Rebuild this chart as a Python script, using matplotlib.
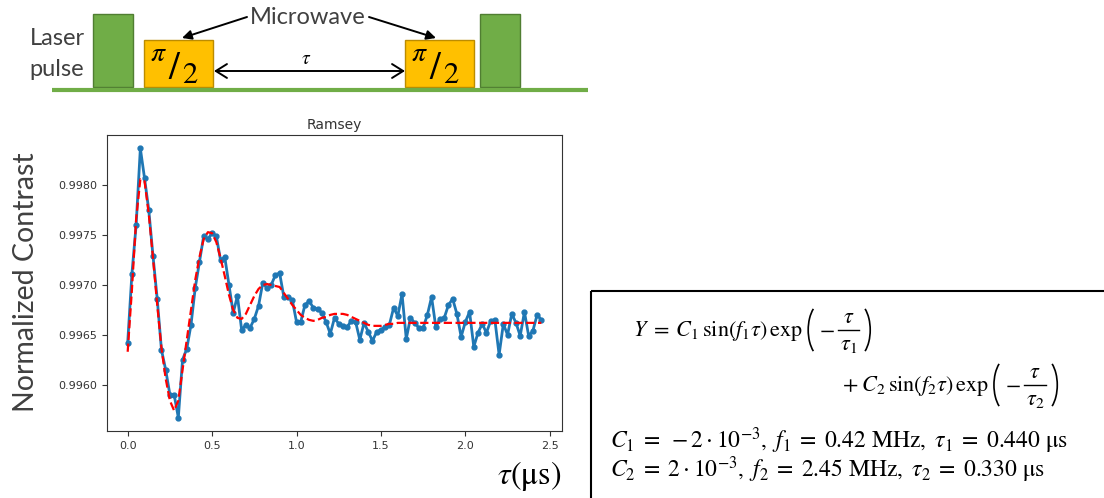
import numpy as np
import matplotlib
matplotlib.use('Agg')
import matplotlib.pyplot as plt
from matplotlib.patches import Rectangle, Arc

plt.rcParams['mathtext.fontset'] = 'stix'

# Ramsey data (tau in us)
tau = np.linspace(0, 2.45, 99)
contrast = [
    0.99642, 0.99711, 0.99760, 0.99837, 0.99807, 0.99775, 0.99729, 0.99686, 0.99635, 0.99615,
    0.99590, 0.99590, 0.99567, 0.99625, 0.99636, 0.99660, 0.99697, 0.99723, 0.99749, 0.99746,
    0.99752, 0.99749, 0.99725, 0.99728, 0.99700, 0.99672, 0.99689, 0.99655, 0.99660, 0.99657,
    0.99666, 0.99679, 0.99702, 0.99697, 0.99700, 0.99710, 0.99712, 0.99688, 0.99688, 0.99685,
    0.99663, 0.99663, 0.99680, 0.99684, 0.99677, 0.99676, 0.99672, 0.99663, 0.99651, 0.99667,
    0.99661, 0.99659, 0.99658, 0.99664, 0.99663, 0.99645, 0.99662, 0.99653, 0.99644, 0.99653,
    0.99655, 0.99658, 0.99660, 0.99677, 0.99669, 0.99691, 0.99646, 0.99667, 0.99662, 0.99657,
    0.99657, 0.99670, 0.99688, 0.99658, 0.99666, 0.99667, 0.99680, 0.99686, 0.99671, 0.99648,
    0.99663, 0.99673, 0.99638, 0.99652, 0.99661, 0.99652, 0.99664, 0.99665, 0.99630, 0.99661,
    0.99650, 0.99671, 0.99662, 0.99649, 0.99673, 0.99649, 0.99654, 0.99670, 0.99665,
]
fit = [
    0.99633, 0.99695, 0.99766, 0.99806, 0.99804, 0.99771, 0.99727, 0.99680, 0.99637, 0.99606,
    0.99584, 0.99574, 0.99584, 0.99615, 0.99645, 0.99675, 0.99705, 0.99728, 0.99746, 0.99753,
    0.99752, 0.99743, 0.99727, 0.99709, 0.99690, 0.99675, 0.99667, 0.99666, 0.99671, 0.99680,
    0.99689, 0.99696, 0.99700, 0.99701, 0.99700, 0.99699, 0.99698, 0.99692, 0.99686, 0.99680,
    0.99675, 0.99670, 0.99667, 0.99665, 0.99664, 0.99665, 0.99667, 0.99668, 0.99670, 0.99671,
    0.99671, 0.99671, 0.99670, 0.99668, 0.99666, 0.99664, 0.99662, 0.99660, 0.99659, 0.99659,
    0.99659, 0.99660, 0.99661, 0.99661, 0.99662, 0.99662, 0.99662, 0.99662, 0.99662, 0.99662,
    0.99662, 0.99662, 0.99662, 0.99662, 0.99662, 0.99662, 0.99662, 0.99662, 0.99662, 0.99662,
    0.99662, 0.99662, 0.99662, 0.99662, 0.99662, 0.99662, 0.99662, 0.99662, 0.99662, 0.99662,
    0.99662, 0.99662, 0.99662, 0.99662, 0.99662, 0.99662, 0.99662, 0.99662, 0.99662,
]
yticks = [0.9960, 0.9965, 0.9970, 0.9975, 0.9980]

fig = plt.figure(figsize=(11.04, 4.98), dpi=100)
renderer = fig.canvas.get_renderer()

# --- Ramsey plot ---
ax = fig.add_axes([107 / 1104, 67 / 498, 455 / 1104, 296 / 498])
ax.plot(tau, contrast, '-o', color='#1f77b4', lw=2, ms=3.5)
ax.plot(tau, fit, '--', color='red', lw=1.6)
ax.set_title('Ramsey', fontsize=10, color='#333333', pad=4)
ax.set_yticks(yticks)
ax.set_xticks([0.0, 0.5, 1.0, 1.5, 2.0, 2.5])
ax.tick_params(labelsize=8, colors='#333333')
for s in ax.spines.values():
    s.set_color('#333333')

# --- overlay in pixel coords for the diagram, labels and equation box ---
ov = fig.add_axes([0, 0, 1, 1], zorder=-1)
ov.set_xlim(0, 1104)
ov.set_ylim(498, 0)
ov.axis('off')

txt = '#404040'
ov.text(26, 282, 'Normalized Contrast', rotation=90, ha='center', va='center',
        fontsize=20.5, family='Lato', color=txt)
ov.text(561, 476, r'$\tau$(μs)', ha='right', va='center', fontsize=23,
        family='STIXGeneral', color='black')

# pulse sequence
green, green_edge = '#70AD47', '#507E32'
orange, orange_edge = '#FFC000', '#BC8C00'
ov.plot([52, 588], [90, 90], color=green, lw=3, solid_capstyle='butt')
for x0 in (93, 480):
    ov.add_patch(Rectangle((x0, 14), 40, 73, facecolor=green, edgecolor=green_edge, lw=1))
for x0 in (144, 405):
    ov.add_patch(Rectangle((x0, 40), 69, 47, facecolor=orange, edgecolor=orange_edge, lw=1))
    ov.text(x0 + 14, 53, r'$\pi$', fontsize=20, ha='center', va='center')
    ov.text(x0 + 30, 70, '/', fontsize=28, family='STIXGeneral', ha='center', va='center')
    ov.text(x0 + 46, 76, '2', fontsize=22, family='STIXGeneral', ha='center', va='center')

ov.text(57, 38, 'Laser', fontsize=17, family='Lato', color=txt, ha='center', va='center')
ov.text(57, 69, 'pulse', fontsize=17, family='Lato', color=txt, ha='center', va='center')
ov.text(308, 17, 'Microwave', fontsize=17, family='Lato', color=txt, ha='center', va='center')
arrow = dict(arrowstyle='-|>', color='black', lw=1.4, mutation_scale=14, shrinkA=0, shrinkB=0)
ov.annotate('', xy=(182, 38), xytext=(247, 17), arrowprops=arrow)
ov.annotate('', xy=(436, 38), xytext=(369, 17), arrowprops=arrow)
ov.annotate('', xy=(405, 71), xytext=(214, 71),
            arrowprops=dict(arrowstyle='<->,head_length=0.8,head_width=0.5', color='black',
                            lw=1.4, shrinkA=0, shrinkB=0))
ov.text(306, 58, r'$\tau$', fontsize=14, ha='center', va='center')

# equation box
ov.add_patch(Rectangle((591, 291), 530, 230, fill=False, edgecolor='black', lw=1.5))
F = 16


def width(t):
    return t.get_window_extent(renderer).width


def paren(x, ym, left):
    # thin tall bracket drawn as an arc; returns its width in pixels
    if left:
        ov.add_patch(Arc((x + 15, ym), 30, 56, theta1=115, theta2=245, lw=1.2, color='black'))
    else:
        ov.add_patch(Arc((x - 6, ym), 30, 56, theta1=-65, theta2=65, lw=1.2, color='black'))
    return 9


def exp_term(x, yb, lead, sub):
    # lead text, then exp( -tau/tau_sub ) with a full-size fraction and tall brackets
    ym = yb - 6
    t = ov.text(x, yb, lead, fontsize=F, va='baseline')
    x += width(t) + 5
    x += paren(x, ym, True) + 2
    t = ov.text(x, yb, r'$-$', fontsize=F, va='baseline')
    x += width(t) + 3
    num = ov.text(0, yb - 13, r'$\tau$', fontsize=F, ha='center', va='baseline')
    den = ov.text(0, yb + 14, r'$\tau_%s$' % sub, fontsize=F, ha='center', va='baseline')
    fw = max(width(num), width(den)) + 4
    num.set_x(x + fw / 2)
    den.set_x(x + fw / 2)
    ov.plot([x, x + fw], [ym, ym], color='black', lw=1)
    x += fw + 2
    paren(x, ym, False)


exp_term(633, 336, r'$Y\;=\;C_1\,\sin(f_1\tau)\,\exp$', '1')
exp_term(842, 391, r'$+\;C_2\,\sin(f_2\tau)\,\exp$', '2')
ov.text(610, 441, r'$C_1\;=\;-2\cdot10^{-3},\ f_1\;=\;0.42\ \mathrm{MHz},\ \tau_1\;=\;0.440\ \mathrm{μs}$',
        fontsize=17, ha='left', va='center')
ov.text(610, 470, r'$C_2\;=\;2\cdot10^{-3},\ f_2\;=\;2.45\ \mathrm{MHz},\ \tau_2\;=\;0.330\ \mathrm{μs}$',
        fontsize=17, ha='left', va='center')

fig.savefig('out.png', dpi=100)
